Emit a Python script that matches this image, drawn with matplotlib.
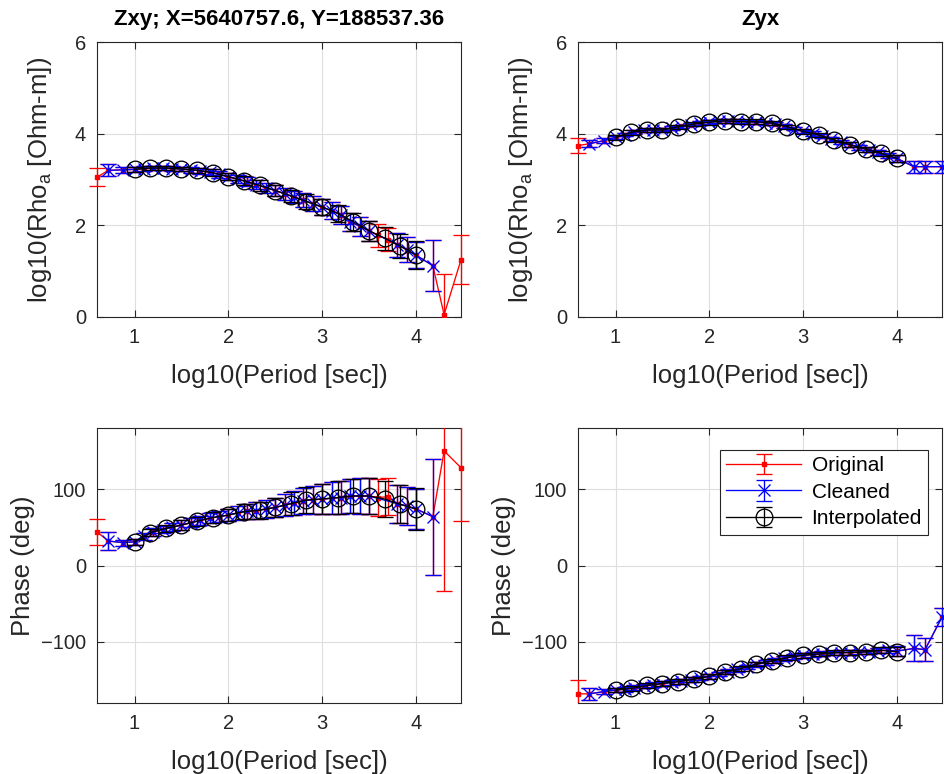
import numpy as np
import matplotlib
matplotlib.use("Agg")
import matplotlib.pyplot as plt
from matplotlib.patches import Rectangle

plt.rcParams['font.family'] = ['Liberation Sans', 'DejaVu Sans']
plt.rcParams['mathtext.fontset'] = 'custom'
plt.rcParams['mathtext.rm'] = 'Liberation Sans'
plt.rcParams['mathtext.it'] = 'Liberation Sans:italic'
plt.rcParams['mathtext.default'] = 'regular'

# ---------------- data ----------------
title_xy = "Zxy; X=5640757.6, Y=188537.36"
title_yx = "Zyx"

# log10 period of original / cleaned data
per_orig = [0.60, 0.72, 0.88, 1.0, 1.1, 1.2, 1.3, 1.4, 1.5, 1.6, 1.7, 1.8, 1.9,
            2.0, 2.1, 2.2, 2.3, 2.4, 2.5, 2.6, 2.7, 2.8, 2.9, 3.0, 3.1, 3.2, 3.3,
            3.4, 3.5, 3.6, 3.7, 3.8, 3.9, 4.0, 4.18, 4.30, 4.48]

# Zxy apparent resistivity (log10) and error
rho_xy = [3.05, 3.20, 3.21, 3.22, 3.24, 3.25, 3.25, 3.24, 3.23, 3.21, 3.19, 3.16, 3.11,
          3.06, 3.01, 2.95, 2.89, 2.82, 2.76, 2.69, 2.62, 2.55, 2.47, 2.40, 2.32, 2.23, 2.08,
          1.98, 1.88, 1.78, 1.69, 1.58, 1.47, 1.35, 1.12, 0.05, 1.25]
rho_xy_err = [0.20, 0.13, 0.06, 0.05, 0.05, 0.05, 0.05, 0.05, 0.05, 0.06, 0.06, 0.07, 0.08,
              0.08, 0.09, 0.10, 0.10, 0.11, 0.12, 0.13, 0.14, 0.15, 0.16, 0.17, 0.18, 0.19, 0.20,
              0.21, 0.22, 0.25, 0.25, 0.26, 0.27, 0.28, 0.55, 0.88, 0.53]
# Zxy phase (deg) and error
ph_xy = [44, 32, 30, 31, 38, 44, 47, 50, 53, 56, 59, 62, 64,
         66, 69, 71, 72, 74, 76, 79, 82, 85, 86, 87, 88, 89, 91,
         91, 91, 89, 90, 81, 78, 74, 64, 150, 128]
ph_xy_err = [17, 12, 4, 4, 4, 5, 5, 5, 6, 6, 6, 7, 7,
             8, 9, 10, 11, 12, 13, 14, 16, 17, 18, 20, 21, 22, 22,
             23, 23, 24, 24, 25, 25, 26, 76, 183, 70]
# points removed in the cleaned Zxy set
removed_xy = [0.60, 3.6, 3.7, 4.30, 4.48]

# Zyx apparent resistivity (log10) and error
rho_yx = [3.74, 3.78, 3.85, 3.92, 3.98, 4.04, 4.07, 4.08, 4.09, 4.12, 4.16, 4.20, 4.23,
          4.25, 4.27, 4.28, 4.27, 4.26, 4.25, 4.24, 4.22, 4.17, 4.11, 4.05, 4.00, 3.95, 3.88,
          3.82, 3.76, 3.70, 3.65, 3.59, 3.52, 3.46, 3.28, 3.28, 3.28]
rho_yx_err = [0.16, 0.08, 0.05, 0.04, 0.04, 0.04, 0.04, 0.04, 0.04, 0.04, 0.04, 0.04, 0.04,
              0.04, 0.04, 0.04, 0.04, 0.04, 0.04, 0.04, 0.04, 0.04, 0.04, 0.04, 0.05, 0.05, 0.05,
              0.05, 0.05, 0.05, 0.05, 0.06, 0.06, 0.08, 0.13, 0.13, 0.13]
# Zyx phase (deg) and error
ph_yx = [-168, -168, -165, -163, -162, -160, -158, -156, -154.5, -153, -151.5, -149.5, -147.5,
         -145, -142, -139, -136, -133, -129.5, -127, -124, -121.5, -119, -117.5, -116.5, -115.5, -114.5,
         -114, -114, -113.5, -113, -111.5, -111, -112, -108.6, -110, -67.5]
ph_yx_err = [18, 8, 3, 3, 3, 3, 3, 3, 3, 3, 3, 3, 3,
             3, 3, 3, 3, 3, 3, 3, 3, 3, 3, 3, 3, 3, 3,
             3, 3, 3, 3, 3, 4, 6, 17, 15, 12]
removed_yx = [0.60]

# interpolated periods and values
per_int = [1.0, 1.167, 1.333, 1.5, 1.667, 1.833, 2.0, 2.167, 2.333, 2.5, 2.667, 2.833,
           3.0, 3.167, 3.333, 3.5, 3.667, 3.833, 4.0]
rho_xy_int = [3.22, 3.25, 3.25, 3.23, 3.20, 3.15, 3.06, 2.97, 2.87, 2.76, 2.64, 2.52,
              2.40, 2.26, 2.08, 1.88, 1.72, 1.55, 1.35]
rho_xy_int_err = [0.05, 0.05, 0.05, 0.05, 0.06, 0.07, 0.08, 0.10, 0.11, 0.12, 0.14, 0.16,
                  0.17, 0.19, 0.20, 0.22, 0.25, 0.26, 0.30]
ph_xy_int = [31, 43, 48.6, 53, 58, 62.7, 66, 70.6, 72.4, 76, 81, 85.7,
             87, 89, 91, 91, 87, 80, 74]
ph_xy_int_err = [4, 5, 5, 6, 6, 7, 8, 10, 11, 13, 15, 17,
                 20, 21, 22, 23, 24, 25, 27]
rho_yx_int = [3.92, 4.03, 4.08, 4.08, 4.15, 4.21, 4.25, 4.28, 4.26, 4.26, 4.23, 4.15,
              4.05, 3.97, 3.86, 3.76, 3.66, 3.57, 3.46]
rho_yx_int_err = [0.05, 0.05, 0.05, 0.05, 0.05, 0.05, 0.05, 0.05, 0.05, 0.05, 0.05, 0.05,
                  0.05, 0.05, 0.05, 0.05, 0.05, 0.06, 0.08]
ph_yx_int = [-163, -161, -157, -154.5, -152, -149, -145, -139.5, -135, -129, -125, -120.5,
             -117.5, -116, -114, -114, -113, -111, -113]
ph_yx_int_err = [3, 3, 3, 3, 3, 3, 3, 3, 3, 3, 3, 3,
                 3, 3, 3, 3, 3, 4, 6]

series_names = ["Original", "Cleaned", "Interpolated"]
xticks = [1, 2, 3, 4]
rho_ticks = [0, 2, 4, 6]
ph_ticks = [-100, 0, 100]

# ---------------- plotting ----------------
W, H = 944, 774
fig = plt.figure(figsize=(W / 100, H / 100), dpi=100)

def frac(x0, y0, x1, y1):
    return [x0 / W, 1 - y1 / H, (x1 - x0) / W, (y1 - y0) / H]

axes_pos = {
    'rxy': frac(97, 42, 461, 317),
    'ryx': frac(578, 42, 942, 317),
    'pxy': frac(97, 428, 461, 703),
    'pyx': frac(578, 428, 942, 703),
}

TXT = '#262626'
RED = '#ff0000'
BLUE = '#0000ff'
CAP = 5.8
LW = 0.95


def cleaned(vals, errs, removed):
    p = np.array(per_orig)
    keep = ~np.isin(np.round(p, 2), np.round(removed, 2))
    return p[keep], np.array(vals)[keep], np.array(errs)[keep]


def set_clip(ax, container):
    # clip vertically to the axes box, but let caps/markers overhang at the x edges
    rect = Rectangle((-0.1, 0), 1.2, 1, transform=ax.transAxes, facecolor='none',
                     edgecolor='none')
    data_line, caplines, barcols = container.lines
    arts = [data_line] + list(caplines) + list(barcols)
    for a in arts:
        if a is not None:
            a.set_clip_path(rect)


def panel(key, y, yerr, yi, yierr, removed, ylim, yticks, ylabel, ylab_x,
          title=None, legend=False):
    ax = fig.add_axes(axes_pos[key])
    h1 = ax.errorbar(per_orig, y, yerr=yerr, color=RED, marker='s', ms=3.3, lw=LW,
                     elinewidth=LW, capsize=CAP, capthick=LW, zorder=3)
    pc, yc, ec = cleaned(y, yerr, removed)
    h2 = ax.errorbar(pc, yc, yerr=ec, color=BLUE, marker='x', ms=9, mew=LW, lw=LW,
                     elinewidth=LW, capsize=CAP, capthick=LW, zorder=4)
    h3 = ax.errorbar(per_int, yi, yerr=yierr, color='black', marker='o', mfc='none', ms=12,
                     mew=LW, lw=LW, elinewidth=LW, capsize=CAP, capthick=LW, zorder=5)
    for h in (h1, h2, h3):
        set_clip(ax, h)
    ax.set_xlim(0.6, 4.48)
    ax.set_ylim(*ylim)
    ax.set_xticks(xticks)
    ax.set_yticks(yticks)
    ax.grid(True, color='#dedede', lw=0.8)
    ax.set_axisbelow(True)
    ax.tick_params(direction='in', length=5, width=0.8, colors=TXT, labelsize=14.5,
                   top=True, right=True, pad=8)
    for s in ax.spines.values():
        s.set_color(TXT)
        s.set_linewidth(0.8)
    ax.set_xlabel('log10(Period [sec])', fontsize=18.5, color=TXT, labelpad=12)
    ax.set_ylabel(ylabel, fontsize=18.5, color=TXT)
    ax.yaxis.set_label_coords(ylab_x, 0.5)
    if title:
        ax.set_title(title, fontsize=16, fontweight='bold', color='black', pad=12)
    if legend:
        leg = ax.legend([h1, h2, h3], series_names, loc='upper right', fontsize=15,
                        handlelength=3.6, fancybox=False, framealpha=1, edgecolor=TXT,
                        borderpad=0.3, labelspacing=0.36, handletextpad=0.5,
                        borderaxespad=0, bbox_to_anchor=(0.962, 0.92))
        leg.get_frame().set_linewidth(0.8)
    return ax


rlabel = 'log10(Rho$_a$ [Ohm-m])'
panel('rxy', rho_xy, rho_xy_err, rho_xy_int, rho_xy_int_err, removed_xy,
      (0, 6), rho_ticks, rlabel, -0.118, title=title_xy)
panel('ryx', rho_yx, rho_yx_err, rho_yx_int, rho_yx_int_err, removed_yx,
      (0, 6), rho_ticks, rlabel, -0.118, title=title_yx)
panel('pxy', ph_xy, ph_xy_err, ph_xy_int, ph_xy_int_err, removed_xy,
      (-180, 180), ph_ticks, 'Phase (deg)', -0.17)
panel('pyx', ph_yx, ph_yx_err, ph_yx_int, ph_yx_int_err, removed_yx,
      (-180, 180), ph_ticks, 'Phase (deg)', -0.17, legend=True)

fig.savefig('out.png', dpi=100, facecolor='white')
